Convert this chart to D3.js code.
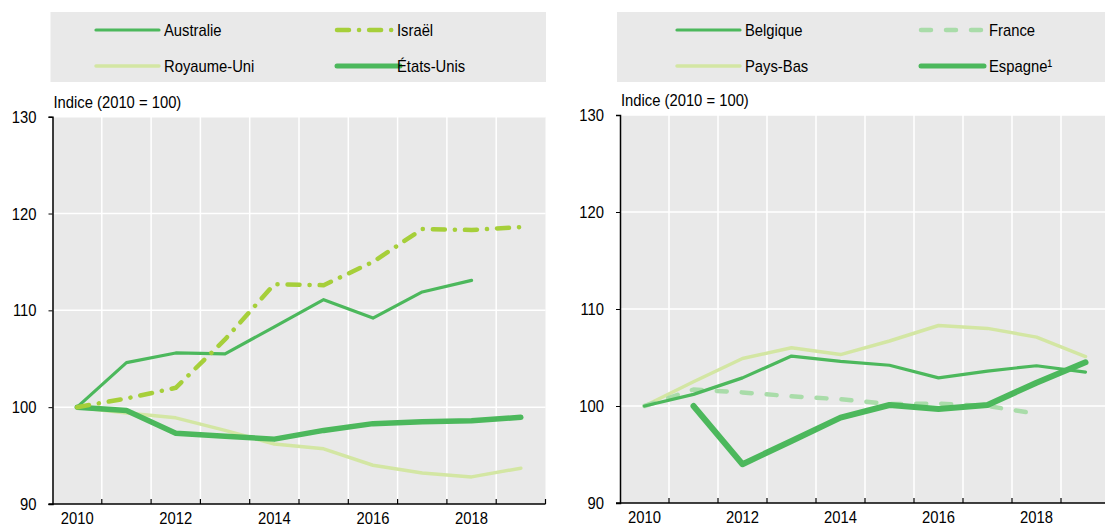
<!DOCTYPE html>
<html>
<head>
<meta charset="utf-8">
<script src="https://cdn.jsdelivr.net/npm/d3@7"></script>
<style>
  body { margin: 0; background: #fff; }
  text { font-family: "Liberation Sans Narrow", "Arial Narrow", "Liberation Sans", Arial, sans-serif; fill: #000; }
</style>
</head>
<body>
<svg id="chart" width="1105" height="526"></svg>
<script>
// years on the x axis, labels every second year
var years = [2010, 2011, 2012, 2013, 2014, 2015, 2016, 2017, 2018, 2019];
var yearLabels = [2010, 2012, 2014, 2016, 2018];
var yTicks = [90, 100, 110, 120, 130];

// left panel
var australie   = [100, 104.6, 105.6, 105.5, 108.3, 111.1, 109.2, 111.9, 113.1, null];
var israel      = [100, 100.9, 102.0, 107.0, 112.7, 112.6, 115.0, 118.4, 118.3, 118.6];
var royaumeUni  = [100, 99.4, 98.9, 97.6, 96.2, 95.7, 94.0, 93.2, 92.8, 93.7];
var etatsUnis   = [100, 99.65, 97.3, 97.0, 96.7, 97.6, 98.3, 98.5, 98.6, 98.95];

// right panel
var belgique    = [100, 101.2, 102.9, 105.15, 104.6, 104.2, 102.9, 103.6, 104.15, 103.5];
var france      = [100, 101.7, 101.4, 101.0, 100.7, 100.2, 100.25, 100.0, 99.2, null];
var paysBas     = [100, 102.5, 104.9, 106.0, 105.3, 106.7, 108.3, 108.0, 107.1, 105.1];
var espagne     = [null, 100, 94.0, 96.4, 98.8, 100.1, 99.7, 100.1, 102.4, 104.5];

var green = '#4cb85c', lime = '#a6cf3a', pale = '#d3e6a3', mint = '#a9dca9';
var SX = 0.87; // the reference font is a narrow sans

var panels = [
  { x0: 52.5, x1: 545.5, y0: 116.7, y1: 504, legend: [50.5, 12, 546, 82],
    series: [
      { name: 'Australie',   values: australie,  color: green, width: 3.2, dash: null },
      { name: 'Israël',      values: israel,     color: lime,  width: 4.5, dash: '12,10,0.1,10' },
      { name: 'Royaume-Uni', values: royaumeUni, color: pale,  width: 3.5, dash: null },
      { name: 'États-Unis',  values: etatsUnis,  color: green, width: 5.5, dash: null }
    ],
    drawOrder: [2, 3, 0, 1],
    legendX: [96, 337], textX: [164, 397] },
  { x0: 620, x1: 1110, y0: 115, y1: 503, legend: [617, 12, 1105, 82],
    series: [
      { name: 'Belgique',  values: belgique, color: green, width: 3.2, dash: null },
      { name: 'France',    values: france,   color: mint,  width: 4.5, dash: '10,15' },
      { name: 'Pays-Bas',  values: paysBas,  color: pale,  width: 3.5, dash: null },
      { name: 'Espagne¹',  values: espagne,  color: green, width: 6,   dash: null }
    ],
    drawOrder: [2, 1, 0, 3],
    legendX: [677, 921], textX: [745, 989] }
];

var svg = d3.select('#chart');

function label(g, x, y, txt, anchor) {
  return g.append('text')
    .attr('transform', 'translate(' + x + ',' + y + ') scale(' + SX + ',1)')
    .attr('text-anchor', anchor || 'start')
    .style('font-size', '17px')
    .text(txt);
}

panels.forEach(function (p) {
  var g = svg.append('g');

  // legend box
  var lb = p.legend;
  g.append('rect')
    .attr('x', lb[0]).attr('y', lb[1])
    .attr('width', lb[2] - lb[0]).attr('height', lb[3] - lb[1])
    .attr('fill', '#e9e9e9');

  p.series.forEach(function (s, i) {
    var col = i % 2, row = Math.floor(i / 2);
    var ly = row ? 66 : 30;
    var lx = p.legendX[col];
    g.append('line')
      .attr('x1', lx).attr('x2', lx + 63)
      .attr('y1', ly).attr('y2', ly)
      .attr('stroke', s.color)
      .attr('stroke-width', Math.min(s.width, 5))
      .attr('stroke-linecap', 'round')
      .attr('stroke-dasharray', s.dash);
    label(g, p.textX[col], ly + 6, s.name);
  });

  var x = d3.scaleBand().domain(years).range([p.x0, p.x1]);
  var y = d3.scaleLinear().domain([90, 130]).range([p.y1, p.y0]);

  // plot background
  g.append('rect')
    .attr('x', p.x0).attr('y', p.y0)
    .attr('width', p.x1 - p.x0).attr('height', p.y1 - p.y0)
    .attr('fill', '#e9e9e9');

  // grid
  g.selectAll('.hg').data(yTicks.slice(1))
    .enter().append('line')
    .attr('x1', p.x0).attr('x2', p.x1)
    .attr('y1', function (d) { return y(d); })
    .attr('y2', function (d) { return y(d); })
    .attr('stroke', '#fff').attr('stroke-width', 1.5);
  g.selectAll('.vg').data(years.slice(1))
    .enter().append('line')
    .attr('x1', function (d) { return x(d); })
    .attr('x2', function (d) { return x(d); })
    .attr('y1', p.y0).attr('y2', p.y1)
    .attr('stroke', '#fff').attr('stroke-width', 1.5);

  // y axis
  var yAxis = d3.axisLeft(y).tickValues(yTicks).tickSize(4).tickFormat('');
  var ya = g.append('g').attr('transform', 'translate(' + p.x0 + ',0)').call(yAxis);
  ya.select('.domain').attr('stroke', '#000').attr('stroke-width', 1.5);
  ya.selectAll('.tick line').attr('stroke', '#000');
  yTicks.forEach(function (t) {
    label(g, p.x0 - 16, y(t) + 6, t, 'end');
  });

  // x axis
  var tickPos = years.slice(1).map(function (d) { return x(d); }).concat([p.x1]);
  g.append('line')
    .attr('x1', p.x0 - 4).attr('x2', p.x1)
    .attr('y1', p.y1).attr('y2', p.y1)
    .attr('stroke', '#000').attr('stroke-width', 1.5);
  g.selectAll('.xt').data(tickPos)
    .enter().append('line')
    .attr('x1', function (d) { return d; }).attr('x2', function (d) { return d; })
    .attr('y1', p.y1).attr('y2', p.y1 - 5)
    .attr('stroke', '#000').attr('stroke-width', 1.2);
  yearLabels.forEach(function (d) {
    label(g, x(d) + x.bandwidth() / 2, p.y1 + 20, d, 'middle');
  });

  label(g, p.x0 + 1, p.y0 - 9, 'Indice (2010 = 100)');

  // lines
  var line = d3.line()
    .defined(function (d) { return d != null; })
    .x(function (d, i) { return x(years[i]) + x.bandwidth() / 2; })
    .y(function (d) { return y(d); });

  p.drawOrder.forEach(function (k) {
    var s = p.series[k];
    g.append('path')
      .datum(s.values)
      .attr('d', line)
      .attr('fill', 'none')
      .attr('stroke', s.color)
      .attr('stroke-width', s.width)
      .attr('stroke-linejoin', 'round')
      .attr('stroke-linecap', 'round')
      .attr('stroke-dasharray', s.dash);
  });
});
</script>
</body>
</html>
